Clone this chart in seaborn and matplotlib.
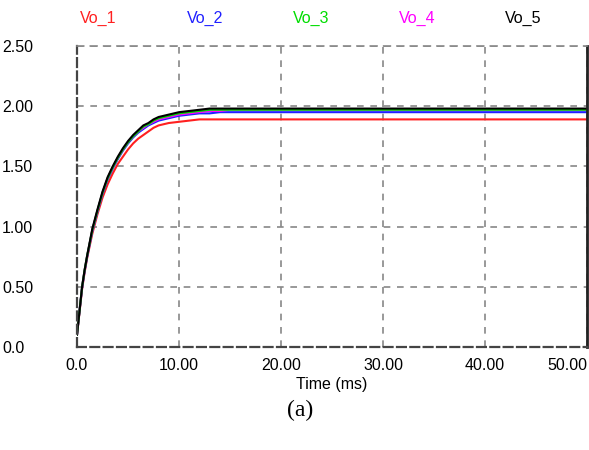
import numpy as np
import pandas as pd
import matplotlib
matplotlib.use("Agg")
import matplotlib.pyplot as plt
import seaborn as sns

# time samples (ms), shared by all traces
time_ms = [0, 0.25, 0.5, 0.75, 1.0, 1.5, 2.0, 2.5, 3.0, 3.5, 4.0, 4.5, 5.0, 5.5,
           6.0, 6.5, 7.0, 7.5, 8.0, 8.5, 9.0, 10.0, 11.0, 12.0, 13.0, 14.0, 15.0,
           16.0, 50.0]

vo_1 = [0.10, 0.29, 0.48, 0.62, 0.74, 0.94, 1.10, 1.24, 1.35, 1.44, 1.52, 1.58, 1.64, 1.69,
        1.73, 1.76, 1.79, 1.82, 1.84, 1.85, 1.86, 1.87, 1.88, 1.89, 1.89, 1.89, 1.89,
        1.89, 1.89]
vo_2 = [0.10, 0.30, 0.49, 0.63, 0.75, 0.96, 1.12, 1.27, 1.39, 1.48, 1.56, 1.63, 1.69, 1.74,
        1.78, 1.81, 1.84, 1.86, 1.88, 1.89, 1.90, 1.92, 1.93, 1.94, 1.94, 1.95, 1.95,
        1.95, 1.95]
vo_3 = [0.10, 0.30, 0.50, 0.64, 0.76, 0.97, 1.13, 1.28, 1.40, 1.49, 1.57, 1.64, 1.70, 1.75,
        1.79, 1.83, 1.85, 1.88, 1.90, 1.91, 1.92, 1.94, 1.95, 1.96, 1.97, 1.97, 1.97,
        1.97, 1.97]
vo_4 = [0.10, 0.30, 0.50, 0.64, 0.76, 0.97, 1.13, 1.28, 1.40, 1.49, 1.57, 1.64, 1.70, 1.75,
        1.79, 1.82, 1.85, 1.87, 1.89, 1.90, 1.91, 1.93, 1.94, 1.95, 1.96, 1.96, 1.97,
        1.97, 1.97]
vo_5 = [0.10, 0.30, 0.50, 0.64, 0.76, 0.98, 1.14, 1.29, 1.41, 1.50, 1.58, 1.65, 1.71, 1.76,
        1.80, 1.84, 1.86, 1.89, 1.91, 1.92, 1.93, 1.95, 1.96, 1.97, 1.98, 1.98, 1.98,
        1.98, 1.98]

names = ["Vo_1", "Vo_2", "Vo_4", "Vo_3", "Vo_5"]   # drawing order
series = {"Vo_1": vo_1, "Vo_2": vo_2, "Vo_3": vo_3, "Vo_4": vo_4, "Vo_5": vo_5}
colors = {"Vo_1": "#ff2020", "Vo_2": "#2020ff", "Vo_3": "#00dd00",
          "Vo_4": "#ff00ff", "Vo_5": "#000000"}
label_order = ["Vo_1", "Vo_2", "Vo_3", "Vo_4", "Vo_5"]

x_ticks = [0, 10, 20, 30, 40, 50]
x_labels = ["0.0", "10.00", "20.00", "30.00", "40.00", "50.00"]
y_ticks = [0, 0.5, 1.0, 1.5, 2.0, 2.5]
y_labels = ["0.0", "0.50", "1.00", "1.50", "2.00", "2.50"]

df = pd.DataFrame([
    {"time": t, "value": v, "trace": n}
    for n in names for t, v in zip(time_ms, series[n])
])

sns.set_style("white")
plt.rcParams["font.family"] = ["Liberation Sans", "DejaVu Sans"]
plt.rcParams["text.color"] = "black"
plt.rcParams["axes.labelcolor"] = "black"
plt.rcParams["xtick.color"] = "black"
plt.rcParams["ytick.color"] = "black"

fig = plt.figure(figsize=(5.89, 4.5), dpi=100)
ax = fig.add_axes([0.1307, 0.2289, 0.866, 0.669])

for n in names:
    sns.lineplot(data=df[df["trace"] == n], x="time", y="value", ax=ax,
                 color=colors[n], linewidth=1.5, estimator=None, legend=False)

ax.set_xlim(0, 50)
ax.set_ylim(0, 2.5)
ax.set_xticks(x_ticks)
ax.set_xticklabels(x_labels, fontsize=11.5)
ax.set_yticks(y_ticks)
ax.set_yticklabels(y_labels, fontsize=11.5)
ax.get_xticklabels()[-1].set_ha("right")
for lbl in ax.get_yticklabels():
    lbl.set_ha("left")
ax.tick_params(axis="y", length=0, pad=54, labelcolor="black")
ax.tick_params(axis="x", length=0, pad=8, labelcolor="black")
ax.set_xlabel("Time (ms)", fontsize=11.5, labelpad=3, color="black")
ax.set_ylabel("")

ax.grid(True, color="#888888", linestyle=(0, (4, 4)), linewidth=1.2)
for side in ["left", "bottom"]:
    ax.spines[side].set_color("#444444")
    ax.spines[side].set_linestyle((0, (4, 2)))
    ax.spines[side].set_linewidth(1.6)
ax.spines["top"].set_color("#888888")
ax.spines["top"].set_linestyle((0, (4, 4)))
ax.spines["top"].set_linewidth(1.2)
ax.spines["right"].set_color("#222222")
ax.spines["right"].set_linewidth(2.0)

label_x = [98, 205, 311, 417, 523]
for n, px in zip(label_order, label_x):
    fig.text(px / 589, 1 - 18 / 450, n, color=colors[n], fontsize=11.5,
             ha="center", va="center")

fig.text(0.51, 1 - 410 / 450, "(a)", fontsize=17, ha="center", va="center",
         family=["Liberation Serif", "DejaVu Serif"], color="black")

fig.savefig("out.png", dpi=100)
plt.close(fig)
